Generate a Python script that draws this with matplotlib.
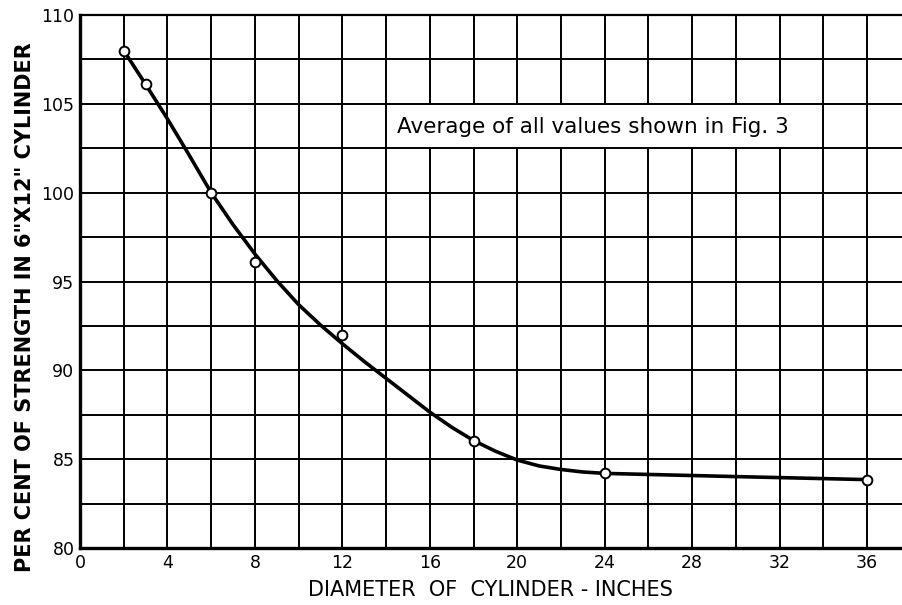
import numpy as np
import matplotlib
matplotlib.use("Agg")
import matplotlib.pyplot as plt
from matplotlib.patches import Rectangle

# measured points (open circles)
diameter = [2, 3, 6, 8, 12, 18, 24, 36]
strength = [108.0, 106.1, 100.0, 96.1, 92.0, 86.0, 84.2, 83.85]

# faired curve
curve_x = [2, 3, 4, 5, 6, 7, 8, 9, 10, 11, 12, 13, 14, 15, 16, 17, 18, 19, 20,
           21, 22, 23, 24, 30, 36]
curve_y = [108.0, 106.1, 104.15, 102.1, 100.0, 98.2, 96.55, 95.05, 93.7, 92.55,
           91.5, 90.5, 89.55, 88.6, 87.65, 86.8, 86.05, 85.45, 84.95,
           84.62, 84.42, 84.28, 84.2, 84.02, 83.85]

x_ticks = [0, 4, 8, 12, 16, 20, 24, 28, 32, 36]
x_tick_labels = ["0", "4", "8", "12", "16", "20", "24", "28", "32", "36"]
y_ticks = [80, 85, 90, 95, 100, 105, 110]

note = "Average of all values shown in Fig. 3"

fig = plt.figure(figsize=(9.02, 6.05), dpi=100)
ax = fig.add_axes([0.0887, 0.0942, 0.9113, 0.881])

ax.set_xlim(0, 37.6)
ax.set_ylim(80, 110)

# grid: every 2 inches, every 2.5 per cent
for gx in np.arange(2, 37, 2):
    ax.axvline(gx, color="black", lw=1.4, zorder=1)
for gy in np.arange(82.5, 110, 2.5):
    ax.axhline(gy, color="black", lw=1.4, zorder=1)

# white label box knocks out the grid
ax.add_patch(Rectangle((14.08, 102.58), 33.92 - 14.08, 104.92 - 102.58,
                       facecolor="white", edgecolor="none", zorder=2))
ax.text(14.5, 103.7, note, fontsize=15.5, va="center", ha="left", zorder=3)

ax.plot(curve_x, curve_y, color="black", lw=2.6, solid_joinstyle="round",
        solid_capstyle="round", zorder=4)
ax.plot(diameter, strength, linestyle="none", marker="o", markersize=7,
        markerfacecolor="white", markeredgecolor="black", markeredgewidth=1.4,
        zorder=5)

ax.set_xticks(x_ticks)
ax.set_xticklabels(x_tick_labels)
ax.set_yticks(y_ticks)
ax.tick_params(length=0, labelsize=12.5, pad=4)

for s in ["left", "bottom"]:
    ax.spines[s].set_linewidth(2.4)
ax.spines["top"].set_linewidth(1.6)
ax.spines["right"].set_visible(False)

fig.text(0.544, 0.025, "DIAMETER  OF  CYLINDER - INCHES", ha="center", va="center",
         fontsize=15)
fig.text(0.028, 0.493, 'PER CENT OF STRENGTH IN 6"X12" CYLINDER', rotation=90,
         ha="center", va="center", fontsize=15, fontweight="bold")

fig.savefig("out.png", dpi=100)
